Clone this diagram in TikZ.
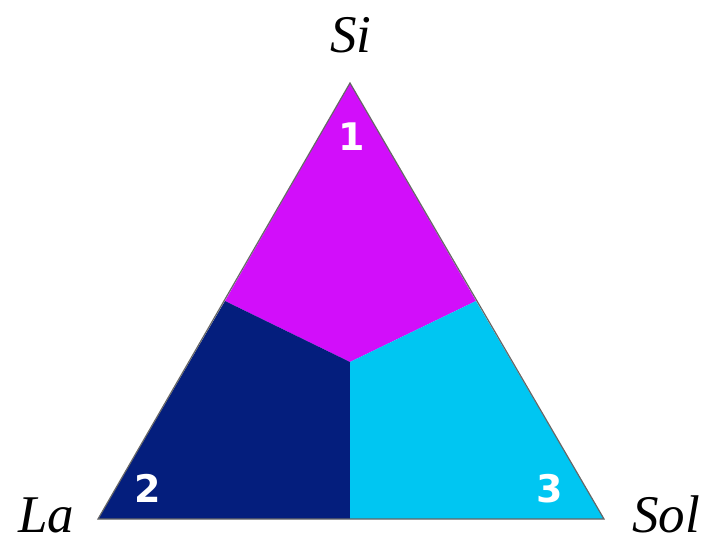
\documentclass[tikz,border=0pt]{standalone}
\usepackage{fontspec}
\newfontfamily\numfont{DejaVu Sans}
\newfontfamily\labfont{Liberation Serif}
\definecolor{regsi}{RGB}{210,14,250}
\definecolor{regla}{RGB}{4,30,125}
\definecolor{regsol}{RGB}{0,198,242}
\begin{document}
\begin{tikzpicture}[x=0.5pt,y=-0.5pt]
    \useasboundingbox (0,0) rectangle (702,542);
    \coordinate (top) at (350,83);
    \coordinate (left) at (98,519);
    \coordinate (right) at (604,519);
    \coordinate (midl) at (225,301);
    \coordinate (midr) at (476,301);
    \coordinate (midb) at (350,519);
    \coordinate (ctr) at (350,362);

    \fill[regsi] (top) -- (midr) -- (ctr) -- (midl) -- cycle;
    \fill[regla] (left) -- (midl) -- (ctr) -- (midb) -- cycle;
    \fill[regsol] (right) -- (midr) -- (ctr) -- (midb) -- cycle;
    \draw[gray!80!black, line width=0.6pt, line join=miter] (top) -- (left) -- (right) -- cycle;

    \node[anchor=base, font=\labfont\itshape\fontsize{26.5}{30}\selectfont] (si) at (351,52) {Si};
    \node[anchor=base, font=\labfont\itshape\fontsize{26.5}{30}\selectfont] (la) at (46,532) {La};
    \node[anchor=base, font=\labfont\itshape\fontsize{26.5}{30}\selectfont] (sol) at (666,532) {Sol};

    \node[text=white, font=\numfont\bfseries\fontsize{19}{22}\selectfont] (n1) at (352,137) {1};
    \node[text=white, font=\numfont\bfseries\fontsize{19}{22}\selectfont] (n2) at (148,488) {2};
    \node[text=white, font=\numfont\bfseries\fontsize{19}{22}\selectfont] (n3) at (550,489) {3};
  \end{tikzpicture}
\end{document}
